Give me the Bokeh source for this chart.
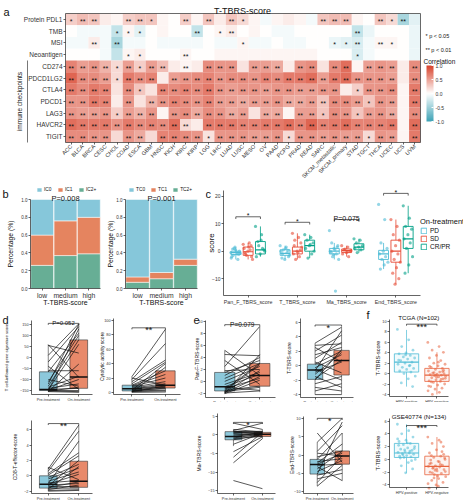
import math
from bokeh.plotting import figure
from bokeh.models import (ColumnDataSource, LinearColorMapper, ColorBar, Label, FixedTicker,
                          Legend, LegendItem, Spacer, Range1d, PrintfTickFormatter)
from bokeh.layouts import row, column
from bokeh.embed import file_html
from bokeh.resources import INLINE
from bokeh.core.properties import value

FONT = "Liberation Sans"

# ======================= DATA =======================
cancer_types = ["ACC", "BLCA", "BRCA", "CESC", "CHOL", "COAD", "ESCA", "GBM", "HNSC", "KICH",
                "KIRC", "KIRP", "LGG", "LIHC", "LUAD", "LUSC", "MESO", "OV", "PAAD", "PCPG",
                "PRAD", "READ", "SARC", "SKCM_metastatic", "SKCM_primary", "STAD", "TGCT",
                "THCA", "UCEC", "UCS", "UVM"]
features = ["Protein PDL1", "TMB", "MSI", "Neoantigen", "CD274", "PDCD1LG2", "CTLA4",
            "PDCD1", "LAG3", "HAVCR2", "TIGIT"]
corr_protein_pdl1 = [0.25, 0.35, 0.30, 0.10, 0.05, 0.25, 0.30, 0.30, 0.05, 0.00, 0.25, 0.05, 0.30, 0.10, 0.30, 0.20,
                     0.05, -0.05, 0.05, 0.10, 0.05, -0.05, 0.30, 0.35, 0.35, 0.05, 0.00, 0.30, 0.20, -0.45, -0.15]
corr_tmb = [0.00, -0.05, -0.05, -0.05, -0.30, 0.05, -0.15, 0.00, 0.05, 0.00, 0.00, -0.30, 0.00, 0.05, 0.10, 0.00,
            0.05, 0.00, -0.05, -0.05, 0.00, 0.00, 0.00, 0.00, 0.00, -0.30, -0.10, 0.00, 0.00, 0.00, -0.10]
corr_msi = [-0.05, -0.05, 0.10, -0.05, -0.45, -0.05, -0.05, 0.00, -0.05, -0.05, -0.05, -0.05, 0.00, -0.05, -0.05, 0.05,
            -0.05, -0.05, 0.00, -0.05, -0.05, 0.00, 0.00, -0.10, -0.15, -0.20, -0.05, 0.05, 0.05, 0.00, -0.10]
corr_neoantigen = [0.00, 0.00, 0.00, -0.05, -0.30, 0.05, 0.10, 0.00, 0.00, 0.00, 0.05, 0.00, 0.00, 0.05, 0.05, 0.05,
                   0.05, 0.05, 0.05, 0.05, 0.05, 0.05, 0.00, 0.00, 0.00, -0.20, -0.05, 0.00, 0.00, 0.00, -0.10]
corr_cd274 = [0.65, 0.50, 0.55, 0.40, 0.20, 0.50, 0.25, 0.50, 0.35, 0.10, 0.05, 0.10, 0.60, 0.55, 0.55, 0.15,
              0.50, 0.50, 0.45, 0.10, 0.55, 0.60, 0.15, 0.60, 0.75, 0.05, 0.50, 0.55, 0.50, 0.10, 0.60]
corr_pdcd1lg2 = [0.80, 0.60, 0.60, 0.50, 0.20, 0.70, 0.60, 0.65, 0.10, 0.50, 0.55, 0.60, 0.65, 0.55, 0.60, 0.60,
                 0.55, 0.65, 0.60, 0.70, 0.70, 0.75, 0.50, 0.70, 0.75, 0.55, 0.55, 0.55, 0.50, 0.10, 0.60]
corr_ctla4 = [0.70, 0.60, 0.70, 0.65, 0.15, 0.60, 0.30, 0.15, 0.65, 0.60, 0.65, 0.60, 0.70, 0.55, 0.50, 0.55,
              0.55, 0.50, 0.55, 0.55, 0.50, 0.50, 0.55, 0.55, 0.10, 0.25, 0.55, 0.55, 0.60, 0.05, 0.70]
corr_pdcd1 = [0.55, 0.55, 0.70, 0.65, 0.10, 0.55, 0.15, 0.40, 0.55, 0.65, 0.60, 0.55, 0.65, 0.50, 0.50, 0.45,
              0.50, 0.50, 0.55, 0.45, 0.45, 0.50, 0.30, 0.60, 0.60, 0.50, 0.30, 0.55, 0.50, 0.05, 0.70]
corr_lag3 = [0.55, 0.50, 0.50, 0.55, 0.25, 0.50, 0.40, 0.55, 0.05, 0.55, 0.60, 0.45, 0.60, 0.55, 0.45, 0.50,
             0.15, 0.45, 0.45, 0.05, 0.50, 0.50, 0.30, 0.60, 0.55, 0.30, 0.50, 0.55, 0.45, 0.05, 0.60]
corr_havcr2 = [0.75, 0.70, 0.70, 0.70, 0.55, 0.70, 0.60, 0.65, 0.60, 0.75, 0.20, 0.10, 0.70, 0.70, 0.70, 0.65,
               0.65, 0.70, 0.70, 0.75, 0.65, 0.80, 0.65, 0.70, 0.75, 0.65, 0.65, 0.65, 0.70, 0.05, 0.75]
corr_tigit = [0.60, 0.60, 0.55, 0.55, 0.20, 0.55, 0.45, 0.20, 0.65, 0.65, 0.60, 0.55, 0.15, 0.55, 0.55, 0.55,
              0.50, 0.50, 0.55, 0.20, 0.55, 0.55, 0.50, 0.55, 0.50, 0.50, 0.20, 0.55, 0.50, 0.05, 0.70]
# significance codes: 0 none, 1 = "*", 2 = "**"
sig_protein_pdl1 = "1220022100" + "2020210000" + "0022200212" + "0"
sig_tmb = "0000111000" + "0201200000" + "0000020000" + "0"
sig_msi = "0020200000" + "0000010000" + "0001120210" + "0"
sig_neoantigen = "0000011000" + "2000000000" + "0000010000" + "0"
sig_cd274 = "2222121220" + "2022202220" + "2202202220" + "2"
sig_pdcd1lg2 = "2222122202" + "2222222222" + "2222222220" + "2"
sig_ctla4 = "2222021022" + "2222222222" + "2222012220" + "2"
sig_pdcd1 = "2222020222" + "2222222222" + "2222221220" + "2"
sig_lag3 = "2222122202" + "2222220220" + "2212212220" + "2"
sig_havcr2 = "2222222222" + "2022222222" + "2222222220" + "2"
sig_tigit = "2222022022" + "2212222221" + "2222221220" + "2"
colorbar_ticks = [-1.0, -0.5, 0.0, 0.5, 1.0]

# panel b
b_groups = ["low", "medium", "high"]
ic2_plus = [0.26, 0.37, 0.39]
ic1 = [0.34, 0.39, 0.41]
ic0 = [0.40, 0.24, 0.20]
tc2_plus = [0.07, 0.11, 0.26]
tc1 = [0.06, 0.07, 0.07]
tc0 = [0.87, 0.82, 0.67]
b_pct_ticks = [0.0, 0.2, 0.4, 0.6, 0.8, 1.0]

# panel c  (box stats: lo, q1, median, q3, hi)
c_scores = ["Pan_F_TBRS_score", "T_TBRS_score", "Ma_TBRS_score", "End_TBRS_score"]
c_status = ["PD", "SD", "CR/PR"]
c_pd_box = [[-3, -1.2, -0.5, 0, 1.5], [-3, -1.5, -0.8, 0.5, 2], [-3, -1, 0, 1, 3], [-6.5, -3, -1, 0.3, 3]]
c_sd_box = [[-3, -1.5, -0.2, 1.5, 3], [-3, -1, 0, 1.5, 6.5], [-2, -0.5, 0.2, 0.8, 2], [-12, -4, 0, 4, 11.5]]
c_cr_box = [[-2, -1, 0.5, 3.5, 9], [-2.5, 0, 2, 4, 6], [-0.5, 0.5, 1.5, 2.7, 4.5], [-8, 1, 4.5, 9, 16.5]]
c_pd_pts = [[-0.5, -1, -1.5, 0, 0.5, -2, -3, 1, -0.8, -0.3, 0.8, -1.2, 1.5, -2.5],
            [2, 1.5, -1, -2, -3, 0, -0.5, 0.5, -1.5, 1, -2.5, 0.3],
            [7.5, -14.5, 3, 2, 1, 0, -1, -2, -3, 0.5, -0.5, 1.5, -1.2],
            [17, 11.5, 3, 1, 0, -1, -2, -3, -4, -5, -6.5]]
c_sd_pts = [[2.5, 3, -1, -2, 0, 1, 0.5, -1.5, -3, 1.5, -0.5, 2],
            [6.5, 5, 4, 3, 0, -1, -2, -3, 1.5, -0.5, 2, 0.5],
            [2, 1.5, 0.5, 0, -0.5, -1, -2, 0.8, 0.2, -0.3],
            [11.5, 9, 6, 4, 2, 0, -1, -3, -4, -6, -8, -10, -12]]
c_cr_pts = [[9, 6, 3.5, 0.5, -1, -2, 1, 2, 0, 4],
            [6, 5, 4, 3, 2, 1, -1, -2.5, 0, 2.5],
            [4.5, 4, 3, 2, 1.5, 1, 0.5, -0.5],
            [16.5, 12, 9, 8, 6, 4.5, 3, 1, -2, -5, -8]]
c_sig_y = [12.5, 10.5, 11.5, 21.0]
c_sig_txt = ["*", "*", "P=0.075", "*"]
c_ticks = [-10, 0, 10, 20]

# panels d / e (paired pre vs on treatment)
pair_labels = ["Pre-treatment", "On-treatment"]
d1_pre = [58, 55, 10, -20, -40, -60, -65, -100, -110, -120, -130, -135, -140, -145, -147, -148, -150, -150, -152, -153, -154, -155]
d1_on = [-90, 20, 153, 140, -145, -60, 110, -130, 100, 150, 80, -85, -120, -140, 60, -100, 130, -150, -155, -135, -30, -158]
d1_box_pre = [-155, -150, -145, -65, 58]
d1_box_on = [-159, -140, -88, 80, 153]
d2_pre = [22, 20, 18, 15, 12, 10, 9, 8, 7, 6, 5, 5, 4, 3, 3, 2, 2, 1, 1, 0.5, 0]
d2_on = [88, 10, 68, 45, 42, 30, 25, 20, 15, 12, 10, 8, 7, 5, 40, 3, 6, 2, 9, 35, 0.5]
d2_box_pre = [0, 2, 5, 10, 22]
d2_box_on = [0, 6, 10, 30, 88]
d3_pre = [1.1, 0.9, 0.6, 0.3, 0.1, -0.2, -0.4, -0.7, -0.9, -1.0, -1.1, -1.2, -1.3, -1.4, -1.5, -1.6, -1.7, -1.8, -1.9, -2.0]
d3_on = [-0.5, 6.6, 5.8, 3.0, 2.6, 1.5, 1.0, 0.5, -0.6, 4.5, 0.2, -1.0, 2.0, -1.4, -0.8, -1.6, 1.2, -1.2, -1.8, -1.9]
d3_box_pre = [-2.0, -1.6, -1.1, 0.0, 1.1]
d3_box_on = [-2.0, -1.5, -0.7, 1.9, 6.6]
e1_pre = [5.2, 4.5, 3.5, 2.5, 1.8, 1.5, 1.0, 0.5, 0.0, -0.5, -0.9, -1.0, -1.2, -1.4, -1.5, -1.6, -1.7, -1.8, -1.9, -2.0, -1.95, -2.05]
e1_on = [1.0, 4.3, -0.5, 9.2, 2.0, 3.5, 4.0, 3.0, 2.5, 1.5, 1.2, -1.5, 0.5, 3.0, -0.8, 2.8, -1.0, 1.8, 0.8, 4.5, -1.6, 0.2]
e1_box_pre = [-2.0, -1.6, -0.9, 1.5, 5.2]
e1_box_on = [-1.8, -0.8, 1.0, 3.0, 9.2]
e2_pre = [3.1, 2.8, 2.5, 2.0, 1.5, 1.0, 0.5, 0.2, -0.3, -0.5, -0.7, -0.9, -1.2, -1.5, -1.8, -2.0, -2.5, -3.0, -3.5, -4.0]
e2_on = [5.3, 3.0, 0.5, 4.2, 2.5, 3.2, -1.0, 2.0, 1.5, -2.0, 4.8, 0.5, 1.8, -3.0, 0.8, 2.2, -1.5, -3.5, -2.5, -4.0]
e2_box_pre = [-4.0, -1.9, -0.6, 0.2, 3.1]
e2_box_on = [-4.0, -1.3, 0.7, 2.1, 5.3]
e3_pre = [3.2, 1.5, 1.2, 1.0, 0.9, 0.8, 0.6, 0.5, 0.3, 0.0, -0.3, -0.5, -0.8, -1.0, -1.3, -2.5, -4.5, -6.0, -7.5, -12.3]
e3_on = [1.5, 0.8, 3.2, 0.6, 1.0, 0.2, 0.5, 0.9, 0.0, 0.4, -0.2, 0.7, 0.3, -0.4, 0.1, 0.5, -0.5, 0.8, -1.0, -14.5]
e3_box_pre = [-3.0, -1.3, -0.4, 0.9, 1.5]
e3_box_on = [-1.0, -0.4, 0.2, 0.7, 1.5]
e4_pre = [6.0, 3.5, 1.0, 0.5, -0.5, -1.2, -1.8, -2.2, -2.5, -2.8, -3.2, -3.8, -4.5, -5.2, -5.5, -6.5, -7.5, -8.5]
e4_on = [-2.0, 10.0, 8.0, -0.3, 1.1, 6.0, -1.0, 3.0, 0.5, -2.5, -7.0, 1.0, -1.5, 9.0, -4.0, -5.0, -0.2, -2.8]
e4_box_pre = [-8.5, -5.2, -2.6, -1.2, 3.5]
e4_box_on = [-7.0, -2.5, -0.3, 1.1, 6.0]

# panel f
hpv_labels = ["HPV-positive", "HPV-negative"]
f1_pos = [8.5, 6.5, 5.2, 4.5, 4, 3.8, 3.5, 3.2, 3, 2.8, 2.5, 2.2, 2, 1.8, 1.5, 1.2, 1, 0.8, 0.5, 0.3, 0, -0.5, -1, -1.8, -2.5, 3.6, 2.6, 1.6]
f1_neg = [6, 5.2, 4.5, 4.1, 3.5, 3, 2.5, 2, 1.8, 1.5, 1.2, 1, 0.8, 0.5, 0.3, 0.1, 0, -0.1, -0.2, -0.3, -0.4, -0.5, -0.6, -0.8,
          -1, -1.2, -1.4, -1.5, -1.7, -2, -2.2, -2.5, -2.8, -3, -3.3, -3.6, -4, 0.6, -0.7, 1.4, -1.1, 0.2, -0.9, 2.2, -1.6, 0.4, -0.3, -2.4]
f1_box_pos = [-2.5, 0.3, 2.2, 3.8, 8.4]
f1_box_neg = [-4.0, -1.5, -0.3, 1.0, 4.1]
f2_pos = [5.5, 4.5, 4, 3.5, 3, 2.8, 2.5, 2.3, 2, 1.8, 1.6, 1.4, 1.2, 1.1, 1, 0.9, 0.8, 0.6, 0.5, 0.4, 0.3, 0, -0.5, -1, -1.5,
          -2.1, 2.2, 1.3, 0.7, 1.7, 2.6, 0.2, -0.2, 1.5, 3.2]
f2_neg = [3.5, 3, 2.5, 2, 1.5, 1, 0.5, 0.3, 0, -0.3, -0.6, -0.9, -1, -1.1, -1.2, -1.4, -1.6, -1.8, -2, -2.2, -2.4, -2.7, -3,
          -3.3, -3.6, -4, -4.5, -0.8, -1.3, 0.2, -2.6, -0.1, 1.2, -1.7, -3.8, -0.4, -2.1, 0.8, -1.5, -0.7, 2.7, -2.9, -1.9, -4.2, 0.6]
f2_box_pos = [-2.1, 0.3, 1.0, 2.5, 5.5]
f2_box_neg = [-4.5, -2.4, -1.1, 0.5, 3.5]

# ======================= STYLE =======================
BLUE_B, ORANGE_B, GREEN_B = "#86C7DA", "#E5845F", "#67AE95"
C_COLS = ["#4DBBD5", "#E64B35", "#00A087"]
PRE_FILL, ON_FILL = "#8CC8DB", "#E8896A"
HPV_COLS = ["#4DBBD5", "#E8643F"]
TXT = "#111111"


def interp_palette(c0, c1, c2, n=128):
    def h2r(h):
        return [int(h[i:i + 2], 16) for i in (1, 3, 5)]
    a, b, c = h2r(c0), h2r(c1), h2r(c2)
    out = []
    for i in range(n):
        t = i / (n - 1)
        if t < 0.5:
            u = t / 0.5
            rgb = [a[k] + (b[k] - a[k]) * u for k in range(3)]
        else:
            u = (t - 0.5) / 0.5
            rgb = [b[k] + (c[k] - b[k]) * u for k in range(3)]
        out.append("#%02x%02x%02x" % tuple(int(round(v)) for v in rgb))
    return out


def mkfig(W, H, box, data):
    """Frame = whole canvas; the data rectangle `data` (x0,x1,y0,y1) lands on pixel box (L,T,R,B).
    Axes are kept in their side panels but pinned (fixed_location) to the data edges."""
    L, T, R, B = box
    x0, x1, y0, y1 = data
    sx = (R - L) / (x1 - x0)
    sy = (B - T) / (y1 - y0)
    p = figure(width=W, height=H, title=None,
               x_range=Range1d(x0 - L / sx, x1 + (W - R) / sx),
               y_range=Range1d(y0 - (H - B) / sy, y1 + T / sy),
               min_border=0, min_border_left=0, min_border_right=0, min_border_top=0,
               min_border_bottom=0, output_backend="svg", toolbar_location=None)
    p.xgrid.visible = False
    p.ygrid.visible = False
    p.outline_line_color = None
    for ax in p.axis:
        ax.major_label_text_font = FONT
        ax.major_label_text_color = "#333333"
        ax.axis_line_color = "#222222"
        ax.major_tick_line_color = "#222222"
        ax.minor_tick_line_color = None
        ax.major_tick_in = 0
        ax.major_tick_out = 2
        ax.major_label_standoff = 1
        ax.axis_line_width = 0.7
        ax.major_tick_line_width = 0.7
    p.xaxis.fixed_location = y0
    p.yaxis.fixed_location = x0
    p.xaxis.bounds = (x0, x1)
    p.yaxis.bounds = (y0, y1)
    p._px = (L, T, R, B, x0, x1, y0, y1)
    return p


def px2data(p, px, py):
    L, T, R, B, x0, x1, y0, y1 = p._px
    return (x0 + (px - L) * (x1 - x0) / (R - L), y0 + (B - py) * (y1 - y0) / (B - T))


def put(p, x, y, text, size, align="left", baseline="alphabetic", angle=0.0, color=TXT):
    """x, y are canvas pixels of this figure (origin top-left)."""
    p.add_layout(Label(x=x, y=y, x_units="canvas", y_units="canvas",
                       text=text, text_font=FONT, text_font_size=f"{size}px", text_align=align,
                       text_baseline=baseline, angle=angle, text_color=color))


def ytitle(p, x, text, size):
    L, T, R, B = p._px[:4]
    put(p, x, (T + B) / 2, text, size, align="center", baseline="middle", angle=math.pi / 2)


# ======================= PANEL a =======================
AW, AH = 463, 183
pa = mkfig(AW, AH, (65, 13, 420, 142), (-0.5, len(cancer_types) - 0.5, -0.5, len(features) - 0.5))
corr_rows = [corr_protein_pdl1, corr_tmb, corr_msi, corr_neoantigen, corr_cd274, corr_pdcd1lg2,
             corr_ctla4, corr_pdcd1, corr_lag3, corr_havcr2, corr_tigit]
sig_rows = [sig_protein_pdl1, sig_tmb, sig_msi, sig_neoantigen, sig_cd274, sig_pdcd1lg2,
            sig_ctla4, sig_pdcd1, sig_lag3, sig_havcr2, sig_tigit]
nrow = len(features)
hx, hy, hv, hs = [], [], [], []
for i, (vals, sg) in enumerate(zip(corr_rows, sig_rows)):
    for j, v in enumerate(vals):
        hx.append(j)
        hy.append(nrow - 1 - i)
        hv.append(v)
        hs.append({"0": "", "1": "*", "2": "**"}[sg[j]])
hsrc = ColumnDataSource(dict(x=hx, y=hy, v=hv, s=hs))
pal = interp_palette("#3DA3B6", "#FFFFFF", "#D8412A")
cmap = LinearColorMapper(palette=pal, low=-1, high=1)
pa.rect(x="x", y="y", width=1, height=1, source=hsrc,
        fill_color={"field": "v", "transform": cmap}, line_color=None)
pa.text(x="x", y="y", text="s", source=hsrc, text_align="center", text_baseline="middle",
        text_font=value(FONT), text_font_size="7px", text_color=TXT, y_offset=2)
pa.quad(left=[-0.5], right=[len(cancer_types) - 0.5], bottom=[-0.5], top=[nrow - 0.5],
        fill_color=None, line_color="#444444", line_width=0.8)
pa.xaxis.ticker = FixedTicker(ticks=list(range(len(cancer_types))))
pa.xaxis.major_label_overrides = {j: c for j, c in enumerate(cancer_types)}
pa.xaxis.major_label_orientation = math.pi / 4
pa.xaxis.major_label_text_font_size = "5.6px"
pa.yaxis.ticker = FixedTicker(ticks=list(range(nrow)))
pa.yaxis.major_label_overrides = {nrow - 1 - i: f for i, f in enumerate(features)}
pa.yaxis.major_label_text_font_size = "6.5px"
for ax in pa.axis:
    ax.axis_line_color = None
    ax.major_label_standoff = 1
put(pa, 3, 11, "a", 11)
put(pa, 242, 10, "T-TBRS-score", 9, align="center")
put(pa, 19, 101, "immune checkpoints", 6.5, align="center", baseline="middle", angle=math.pi / 2)
lx0, ly0 = px2data(pa, 27, 60)
lx1, ly1 = px2data(pa, 27, 142)
pa.segment(x0=[lx0], y0=[ly0], x1=[lx1], y1=[ly1], line_color="#555555", line_width=0.8)
put(pa, 425, 35, "* p < 0.05", 5.5)
put(pa, 425, 49, "** p < 0.01", 5.5)
put(pa, 423, 61, "Correlation", 6.5)
cb = ColorBar(color_mapper=cmap, width=7, height=56, location=(426, AH - 121),
              padding=0, title=None,
              ticker=FixedTicker(ticks=colorbar_ticks), formatter=PrintfTickFormatter(format="%.1f"),
              major_label_text_font_size="5px", major_label_text_font=FONT,
              major_label_text_color="#333333", major_tick_line_color="white", major_tick_in=2,
              major_tick_out=0, label_standoff=2, bar_line_color=None, background_fill_alpha=0)
pa.add_layout(cb)

# ======================= PANEL b =======================
BH = 122


def stacked_fig(W, box, bottom, mid, top, names, cols, title, ylab_x, leg_x):
    p = mkfig(W, BH, box, (-0.5, len(b_groups) - 0.5, 0, 1))
    src = ColumnDataSource(dict(x=list(range(len(b_groups))), s0=bottom, s1=mid, s2=top))
    rs = p.vbar_stack(["s0", "s1", "s2"], x="x", width=0.98, source=src,
                      fill_color=cols, line_color="white", line_width=0.5)
    p.xaxis.ticker = FixedTicker(ticks=list(range(len(b_groups))))
    p.xaxis.major_label_overrides = {i: g for i, g in enumerate(b_groups)}
    p.xaxis.major_label_text_font_size = "6.8px"
    p.yaxis.ticker = FixedTicker(ticks=b_pct_ticks)
    p.yaxis.formatter = PrintfTickFormatter(format="%.1f")
    p.yaxis.major_label_text_font_size = "4.5px"
    items = [LegendItem(label=names[0], renderers=[rs[2]]),
             LegendItem(label=names[1], renderers=[rs[1]]),
             LegendItem(label=names[2], renderers=[rs[0]])]
    leg = Legend(items=items, orientation="horizontal", location=(leg_x, BH - 8.5),
                 padding=0, margin=0, spacing=5, label_standoff=2, glyph_width=6, glyph_height=5,
                 label_height=5, label_width=8, label_text_font_size="4.8px", label_text_font=FONT,
                 label_text_color=TXT, background_fill_alpha=0, border_line_alpha=0)
    p.add_layout(leg)
    xc = (box[0] + box[2]) / 2
    put(p, xc, 14.5, title, 7.5, align="center")
    put(p, xc, 119, "T-TBRS-score", 7, align="center")
    ytitle(p, ylab_x, "Percentage (%)", 6.8)
    return p


pb1 = stacked_fig(105, (30, 16, 100, 105), ic2_plus, ic1, ic0, ["IC0", "IC1", "IC2+"],
                  [GREEN_B, ORANGE_B, BLUE_B], "P=0.008", 10, 36)
pb2 = stacked_fig(100, (20, 16, 92, 105), tc2_plus, tc1, tc0, ["TC0", "TC1", "TC2+"],
                  [GREEN_B, ORANGE_B, BLUE_B], "P=0.001", 5, 23)
put(pb1, 2, 10, "b", 11)

# ======================= PANEL c =======================
pc = mkfig(258, BH, (18, 7, 215, 112), (-0.5, len(c_scores) - 0.5, -16.1, 22.05))
offs = [-0.25, 0.0, 0.25]
BWc = 0.2
box_sets = [c_pd_box, c_sd_box, c_cr_box]
pt_sets = [c_pd_pts, c_sd_pts, c_cr_pts]
leg_r = []
for k in range(3):
    xs = [g + offs[k] for g in range(len(c_scores))]
    bx = box_sets[k]
    src = ColumnDataSource(dict(x=xs, l=[xs_ - BWc / 2 for xs_ in xs], r=[xs_ + BWc / 2 for xs_ in xs],
                                lo=[b[0] for b in bx], q1=[b[1] for b in bx], med=[b[2] for b in bx],
                                q3=[b[3] for b in bx], hi=[b[4] for b in bx]))
    px, py = [], []
    for g in range(len(c_scores)):
        for i, v in enumerate(pt_sets[k][g]):
            px.append(g + offs[k] + (((i * 0.618034) % 1) - 0.5) * 0.2)
            py.append(v)
    pc.scatter(px, py, size=3.2, color=C_COLS[k], alpha=0.6, line_color=None)
    pc.segment("x", "lo", "x", "q1", source=src, line_color=C_COLS[k], line_width=0.8)
    pc.segment("x", "q3", "x", "hi", source=src, line_color=C_COLS[k], line_width=0.8)
    qr = pc.quad(left="l", right="r", bottom="q1", top="q3", source=src, fill_color="white",
                 fill_alpha=0.0, line_color=C_COLS[k], line_width=0.9)
    pc.segment("l", "med", "r", "med", source=src, line_color=C_COLS[k], line_width=1.2)
    leg_r.append(qr)
bxs, bys = [], []
for g in range(len(c_scores)):
    y = c_sig_y[g]
    bxs.append([g + offs[0], g + offs[0], g + offs[2], g + offs[2]])
    bys.append([y - 0.8, y, y, y - 0.8])
pc.multi_line(bxs, bys, line_color="#222222", line_width=0.7)
pc.text(x=list(range(len(c_scores))), y=c_sig_y, text=c_sig_txt, text_align="center",
        text_baseline="alphabetic", text_font=value(FONT), text_font_size="7px", y_offset=-1,
        text_color=TXT)
pc.xaxis.ticker = FixedTicker(ticks=list(range(len(c_scores))))
pc.xaxis.major_label_overrides = {i: n for i, n in enumerate(c_scores)}
pc.xaxis.major_label_text_font_size = "5.3px"
pc.yaxis.ticker = FixedTicker(ticks=c_ticks)
pc.yaxis.major_label_text_font_size = "5px"
ytitle(pc, 6, "score", 8)
cleg = Legend(items=[LegendItem(label=n, renderers=[r]) for n, r in zip(c_status, leg_r)],
              title="On-treatment", location=(215, BH - 67),
              padding=0, margin=0, spacing=1, label_standoff=3, glyph_width=7, glyph_height=7,
              label_height=7, label_text_font_size="6.5px", label_text_font=FONT,
              label_text_color=TXT, title_text_color=TXT,
              title_text_font_size="7.5px", title_text_font=FONT, title_text_font_style="normal",
              title_standoff=1, background_fill_alpha=0, border_line_alpha=0)
pc.add_layout(cleg)
put(pc, 0, 10, "c", 11)


# ======================= PANELS d / e =======================
def paired_fig(W, H, box, yr, yticks, ylabel, ylab_x, ylab_size, pre, on, bpre, bon, sig_y, sig_txt, sig_size):
    p = mkfig(W, H, box, (0.45, 2.45, yr[0], yr[1]))
    BW = 0.58
    xs = [1, 2]
    src = ColumnDataSource(dict(x=xs, l=[x - BW / 2 for x in xs], r=[x + BW / 2 for x in xs],
                                lo=[bpre[0], bon[0]], q1=[bpre[1], bon[1]], med=[bpre[2], bon[2]],
                                q3=[bpre[3], bon[3]], hi=[bpre[4], bon[4]], c=[PRE_FILL, ON_FILL]))
    p.segment("x", "lo", "x", "q1", source=src, line_color="#333333", line_width=0.6)
    p.segment("x", "q3", "x", "hi", source=src, line_color="#333333", line_width=0.6)
    p.quad(left="l", right="r", bottom="q1", top="q3", source=src, fill_color="c",
           line_color="#333333", line_width=0.6)
    p.multi_line([xs] * len(pre), [[a, b] for a, b in zip(pre, on)], line_color="#111111",
                 line_width=0.7)
    p.segment("l", "med", "r", "med", source=src, line_color="#111111", line_width=1.5)
    d = (yr[1] - yr[0]) * 0.02
    p.line([1, 1, 2, 2], [sig_y - d, sig_y, sig_y, sig_y - d], line_color="#222222", line_width=0.7)
    p.text(x=[1.5], y=[sig_y], text=[sig_txt], text_align="center", text_baseline="alphabetic",
           text_font=value(FONT), text_font_size=f"{sig_size}px", text_color=TXT,
           y_offset=(2.5 if sig_txt.startswith("*") else -0.5))
    p.xaxis.ticker = FixedTicker(ticks=xs)
    p.xaxis.major_label_overrides = {1: pair_labels[0], 2: pair_labels[1]}
    p.xaxis.major_label_text_font_size = "3.8px"
    p.yaxis.ticker = FixedTicker(ticks=yticks)
    p.yaxis.major_label_text_font_size = "3.8px"
    ytitle(p, ylab_x, ylabel, ylab_size)
    return p


pd1 = paired_fig(95, 97, (31, 15, 92, 89), (-168, 168), [-150, -100, -50, 0, 50, 100, 150],
                 "T cell-inflamed gene signature score", 6, 4.2, d1_pre, d1_on, d1_box_pre, d1_box_on,
                 155, "P=0.052", 6)
pd2 = paired_fig(90, 97, (18, 13, 85, 89), (-3, 103), [0, 20, 40, 60, 80, 100],
                 "Cytolytic activity score", 6, 5, d2_pre, d2_on, d2_box_pre, d2_box_on, 90, "**", 9)
pd3 = paired_fig(95, 98, (31, 18, 92, 91), (-2.3, 7.2), [-2, 0, 2, 4, 6], "CD8-T-effector-score", 14, 5,
                 d3_pre, d3_on, d3_box_pre, d3_box_on, 6.8, "**", 9)
pe1 = paired_fig(95, 97, (20, 15, 90, 92), (-2.7, 10.2), [-2, 0, 2, 4, 6, 8, 10], "Pan-F-TBRS-score", 11, 5,
                 e1_pre, e1_on, e1_box_pre, e1_box_on, 9.5, "P=0.079", 6.5)
pe2 = paired_fig(80, 97, (20, 13, 73, 92), (-4.4, 6.5), [-4, -2, 0, 2, 4, 6], "T-TBRS-score", 8, 5,
                 e2_pre, e2_on, e2_box_pre, e2_box_on, 5.6, "*", 9)
pe3 = paired_fig(95, 98, (32, 11, 90, 91), (-15.8, 5.8), [-15, -10, -5, 0, 5], "Ma-TBRS-score", 13, 5,
                 e3_pre, e3_on, e3_box_pre, e3_box_on, 3.4, "*", 9)
pe4 = paired_fig(80, 98, (23, 14, 73, 91), (-10.5, 10.5), [-10, -5, 0, 5, 10], "End-TBRS-score", 11, 5,
                 e4_pre, e4_on, e4_box_pre, e4_box_on, 10, "*", 9)
put(pd1, 2, 14, "d", 11)
put(pe1, 8, 14, "e", 11)


# ======================= PANEL f =======================
def hpv_fig(W, H, box, yr, yticks, title, pos, neg, bpos, bneg, sig_y):
    p = mkfig(W, H, box, (0.44, 2.38, yr[0], yr[1]))
    BW = 0.8
    for k, (pts, bx) in enumerate(((pos, bpos), (neg, bneg))):
        x = k + 1
        jx = [x + (((i * 0.618034) % 1) - 0.5) * 0.6 for i in range(len(pts))]
        p.scatter(jx, pts, size=2.8, color=HPV_COLS[k], alpha=0.55, line_color=None)
        src = ColumnDataSource(dict(x=[x], l=[x - BW / 2], r=[x + BW / 2], lo=[bx[0]], q1=[bx[1]],
                                    med=[bx[2]], q3=[bx[3]], hi=[bx[4]]))
        p.segment("x", "lo", "x", "q1", source=src, line_color=HPV_COLS[k], line_width=0.7)
        p.segment("x", "q3", "x", "hi", source=src, line_color=HPV_COLS[k], line_width=0.7)
        p.quad(left="l", right="r", bottom="q1", top="q3", source=src, fill_color=HPV_COLS[k],
               fill_alpha=0.08, line_color=HPV_COLS[k], line_width=0.8)
        p.segment("l", "med", "r", "med", source=src, line_color=HPV_COLS[k], line_width=1.2)
    d = (yr[1] - yr[0]) * 0.02
    p.line([1, 1, 2, 2], [sig_y - d, sig_y, sig_y, sig_y - d], line_color="#222222", line_width=0.7)
    p.text(x=[1.5], y=[sig_y], text=["***"], text_align="center", text_baseline="alphabetic",
           text_font=value(FONT), text_font_size="9px", y_offset=2.5, text_color=TXT)
    p.xaxis.ticker = FixedTicker(ticks=[1, 2])
    p.xaxis.major_label_overrides = {1: hpv_labels[0], 2: hpv_labels[1]}
    p.xaxis.major_label_text_font_size = "3.8px"
    p.yaxis.ticker = FixedTicker(ticks=yticks)
    p.yaxis.major_label_text_font_size = "3.8px"
    ytitle(p, 17, "T-TBRS-score", 5.5)
    put(p, (box[0] + box[2]) / 2, box[1] - 2.5, title, 6.2, align="center")
    return p


pf1 = hpv_fig(103, 97, (29, 14, 88, 91), (-4.4, 10.4), [-4, -2, 0, 2, 4, 6, 8, 10], "TCGA (N=102)",
              f1_pos, f1_neg, f1_box_pos, f1_box_neg, 9.5)
pf2 = hpv_fig(103, 98, (29, 16, 88, 85), (-4.4, 6.4), [-4, -2, 0, 2, 4, 6], "GSE40774 (N=134)",
              f2_pos, f2_neg, f2_box_pos, f2_box_neg, 5.3)
put(pf1, 6, 9, "f", 11)

# ======================= LAYOUT =======================
layout = column(
    pa,
    row(pb1, pb2, pc),
    row(column(row(pd1, pd2), row(pd3, Spacer(width=90, height=98))),
        column(row(pe1, pe2), row(pe3, pe4)),
        column(pf1, pf2)),
)
open("out.html", "w").write(file_html(layout, INLINE))
